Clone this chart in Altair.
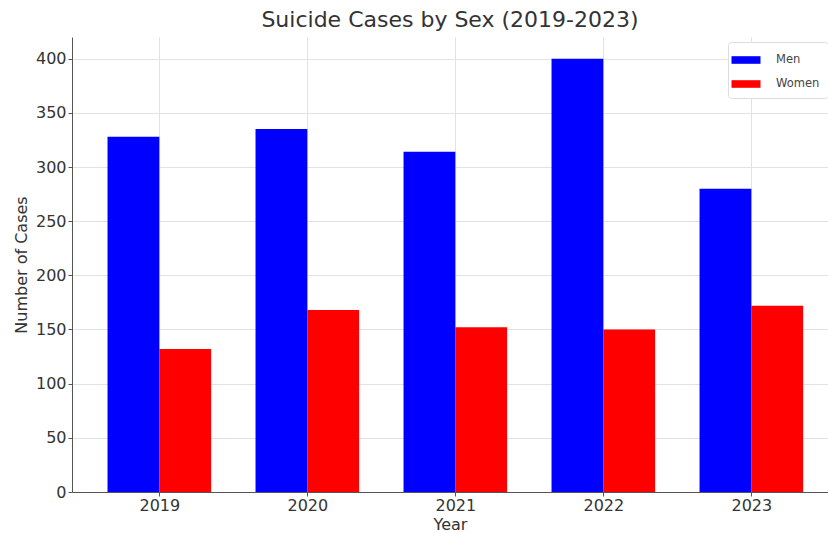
import altair as alt
import pandas as pd

years = [2019, 2020, 2021, 2022, 2023]
men = [328, 335, 314, 400, 280]
women = [132, 168, 152, 150, 172]
sexes = ["Men", "Women"]
colors = ["#0000ff", "#ff0000"]
y_ticks = [0, 50, 100, 150, 200, 250, 300, 350, 400]

rows = []
for i, yr in enumerate(years):
    rows.append({"year": yr, "idx": i, "sex": "Men", "cases": men[i]})
    rows.append({"year": yr, "idx": i, "sex": "Women", "cases": women[i]})
df = pd.DataFrame(rows)

label_expr = str(years) + "[datum.value]"
font = "DejaVu Sans"

chart = (
    alt.Chart(df)
    .transform_calculate(
        x0="datum.sex == 'Men' ? datum.idx - 0.35 : datum.idx",
        x1="datum.sex == 'Men' ? datum.idx : datum.idx + 0.35",
    )
    .mark_bar()
    .encode(
        x=alt.X(
            "x0:Q",
            scale=alt.Scale(domain=[-0.59, 4.518], nice=False, zero=False),
            axis=alt.Axis(
                values=list(range(len(years))),
                labelExpr=label_expr,
                title="Year",
                grid=True,
                tickSize=4,
                labelPadding=1,
                titlePadding=3,
            ),
        ),
        x2="x1:Q",
        y=alt.Y(
            "cases:Q",
            scale=alt.Scale(domain=[0, 420], nice=False),
            axis=alt.Axis(values=y_ticks, title="Number of Cases", tickSize=4,
                          labelPadding=2, titlePadding=6),
        ),
        y2=alt.datum(0),
        color=alt.Color(
            "sex:N",
            scale=alt.Scale(domain=sexes, range=colors),
            legend=alt.Legend(
                title=None,
                orient="none",
                legendX=656,
                legendY=5,
                symbolType="M-1.45,-0.38H1.45V0.38H-1.45Z",
                symbolSize=400,
                symbolStrokeWidth=0,
                labelFontSize=11.5,
                labelColor="#444444",
                labelFont=font,
                labelOffset=20,
                padding=8,
                rowPadding=8,
                strokeColor="#dddddd",
                fillColor="white",
                cornerRadius=3,
            ),
        ),
    )
    .properties(
        width=756,
        height=455,
        autosize=alt.AutoSizeParams(type="none"),
        padding={"left": 72, "top": 37, "right": 0, "bottom": 41},
        title=alt.TitleParams(
            "Suicide Cases by Sex (2019-2023)",
            fontSize=22,
            font=font,
            fontWeight="normal",
            color="#333333",
            offset=5,
        ),
    )
    .configure_view(stroke=None)
    .configure_axis(
        labelFont=font,
        titleFont=font,
        labelFontSize=16,
        titleFontSize=16,
        titleFontWeight="normal",
        labelColor="#333333",
        titleColor="#333333",
        domainColor="#555555",
        tickColor="#555555",
        gridColor="#e2e2e2",
    )
)

chart.save("out.html", embed_options={"renderer": "svg", "actions": False})
